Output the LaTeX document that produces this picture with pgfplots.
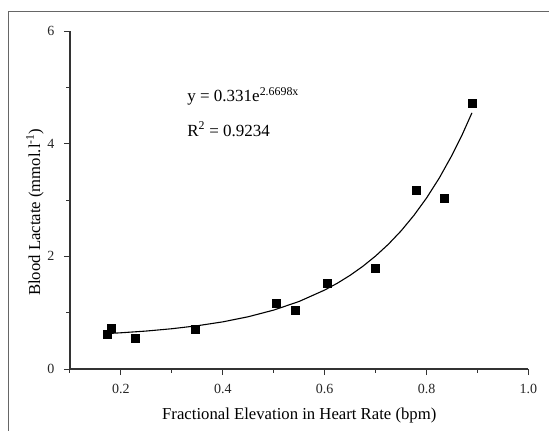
\documentclass[border=0pt]{standalone}
\usepackage{fontspec}
\setmainfont{Liberation Serif}
\usepackage{pgfplots}
\pgfplotsset{compat=1.18}
\begin{document}
\begin{tikzpicture}
\path[use as bounding box] (0,0) rectangle (549pt,-431pt);
% page frame (only left and top edges survive the crop)
\draw[line width=1.5pt, black!60] (8.3pt,-431pt) -- (8.3pt,-11.7pt) -- (549pt,-11.7pt);
\begin{axis}[
  at={(70pt,-369pt)}, anchor=south west,
  scale only axis, width=458.5pt, height=338pt,
  xmin=0.1, xmax=1.0, ymin=0, ymax=6,
  axis lines=left, axis line style={-, line width=1.2pt, black!80},
  xtick={0.2,0.4,0.6,0.8,1.0}, minor xtick={0.1,0.3,0.5,0.7,0.9},
  ytick={0,2,4,6}, minor ytick={1,3,5},
  tick align=outside, tick style={line width=1pt, black!80},
  major tick length=6pt, minor tick length=3.5pt,
  /pgf/number format/assume math mode=true,
  ticklabel style={font=\fontsize{14}{16}\selectfont, black!85},
  xticklabel shift=6pt, yticklabel shift=6pt,
  x tick label style={/pgf/number format/fixed,
    /pgf/number format/fixed zerofill, /pgf/number format/precision=1},
  xlabel={Fractional Elevation in Heart Rate (bpm)},
  ylabel={Blood Lactate (mmol.l\textsuperscript{-1})},
  label style={font=\fontsize{16.7}{19}\selectfont},
  x label style={at={(axis description cs:0.5,-0.148)}, anchor=base},
  y label style={at={(axis description cs:-0.0763,0.464)}, anchor=center},
  clip=false,
]
  % fitted curve
  \addplot[black, line width=1.1pt] coordinates {
    (0.175,0.630) (0.2,0.643) (0.25,0.674) (0.3,0.715) (0.35,0.768)
    (0.4,0.837) (0.45,0.928) (0.5,1.046) (0.55,1.200) (0.6,1.402)
    (0.625,1.524) (0.65,1.664) (0.675,1.824) (0.7,2.007) (0.725,2.215)
    (0.75,2.453) (0.775,2.726) (0.8,3.037) (0.825,3.392) (0.85,3.798)
    (0.87,4.162) (0.889,4.547)
  };
  % measured points
  \addplot[only marks, mark=square*, mark size=4pt, black] coordinates {
    (0.173,0.62) (0.181,0.73) (0.228,0.55) (0.346,0.70) (0.504,1.17)
    (0.543,1.05) (0.605,1.53) (0.700,1.79) (0.779,3.18) (0.834,3.03)
    (0.889,4.71)
  };
  \node[anchor=base west, font=\fontsize{17}{19}\selectfont, inner sep=0pt]
    at (axis cs:0.330,4.745) {y = 0.331e\textsuperscript{2.6698x}};
  \node[anchor=base west, font=\fontsize{17}{19}\selectfont, inner sep=0pt]
    at (axis cs:0.330,4.136) {R\textsuperscript{2} = 0.9234};
\end{axis}
\end{tikzpicture}
\end{document}
